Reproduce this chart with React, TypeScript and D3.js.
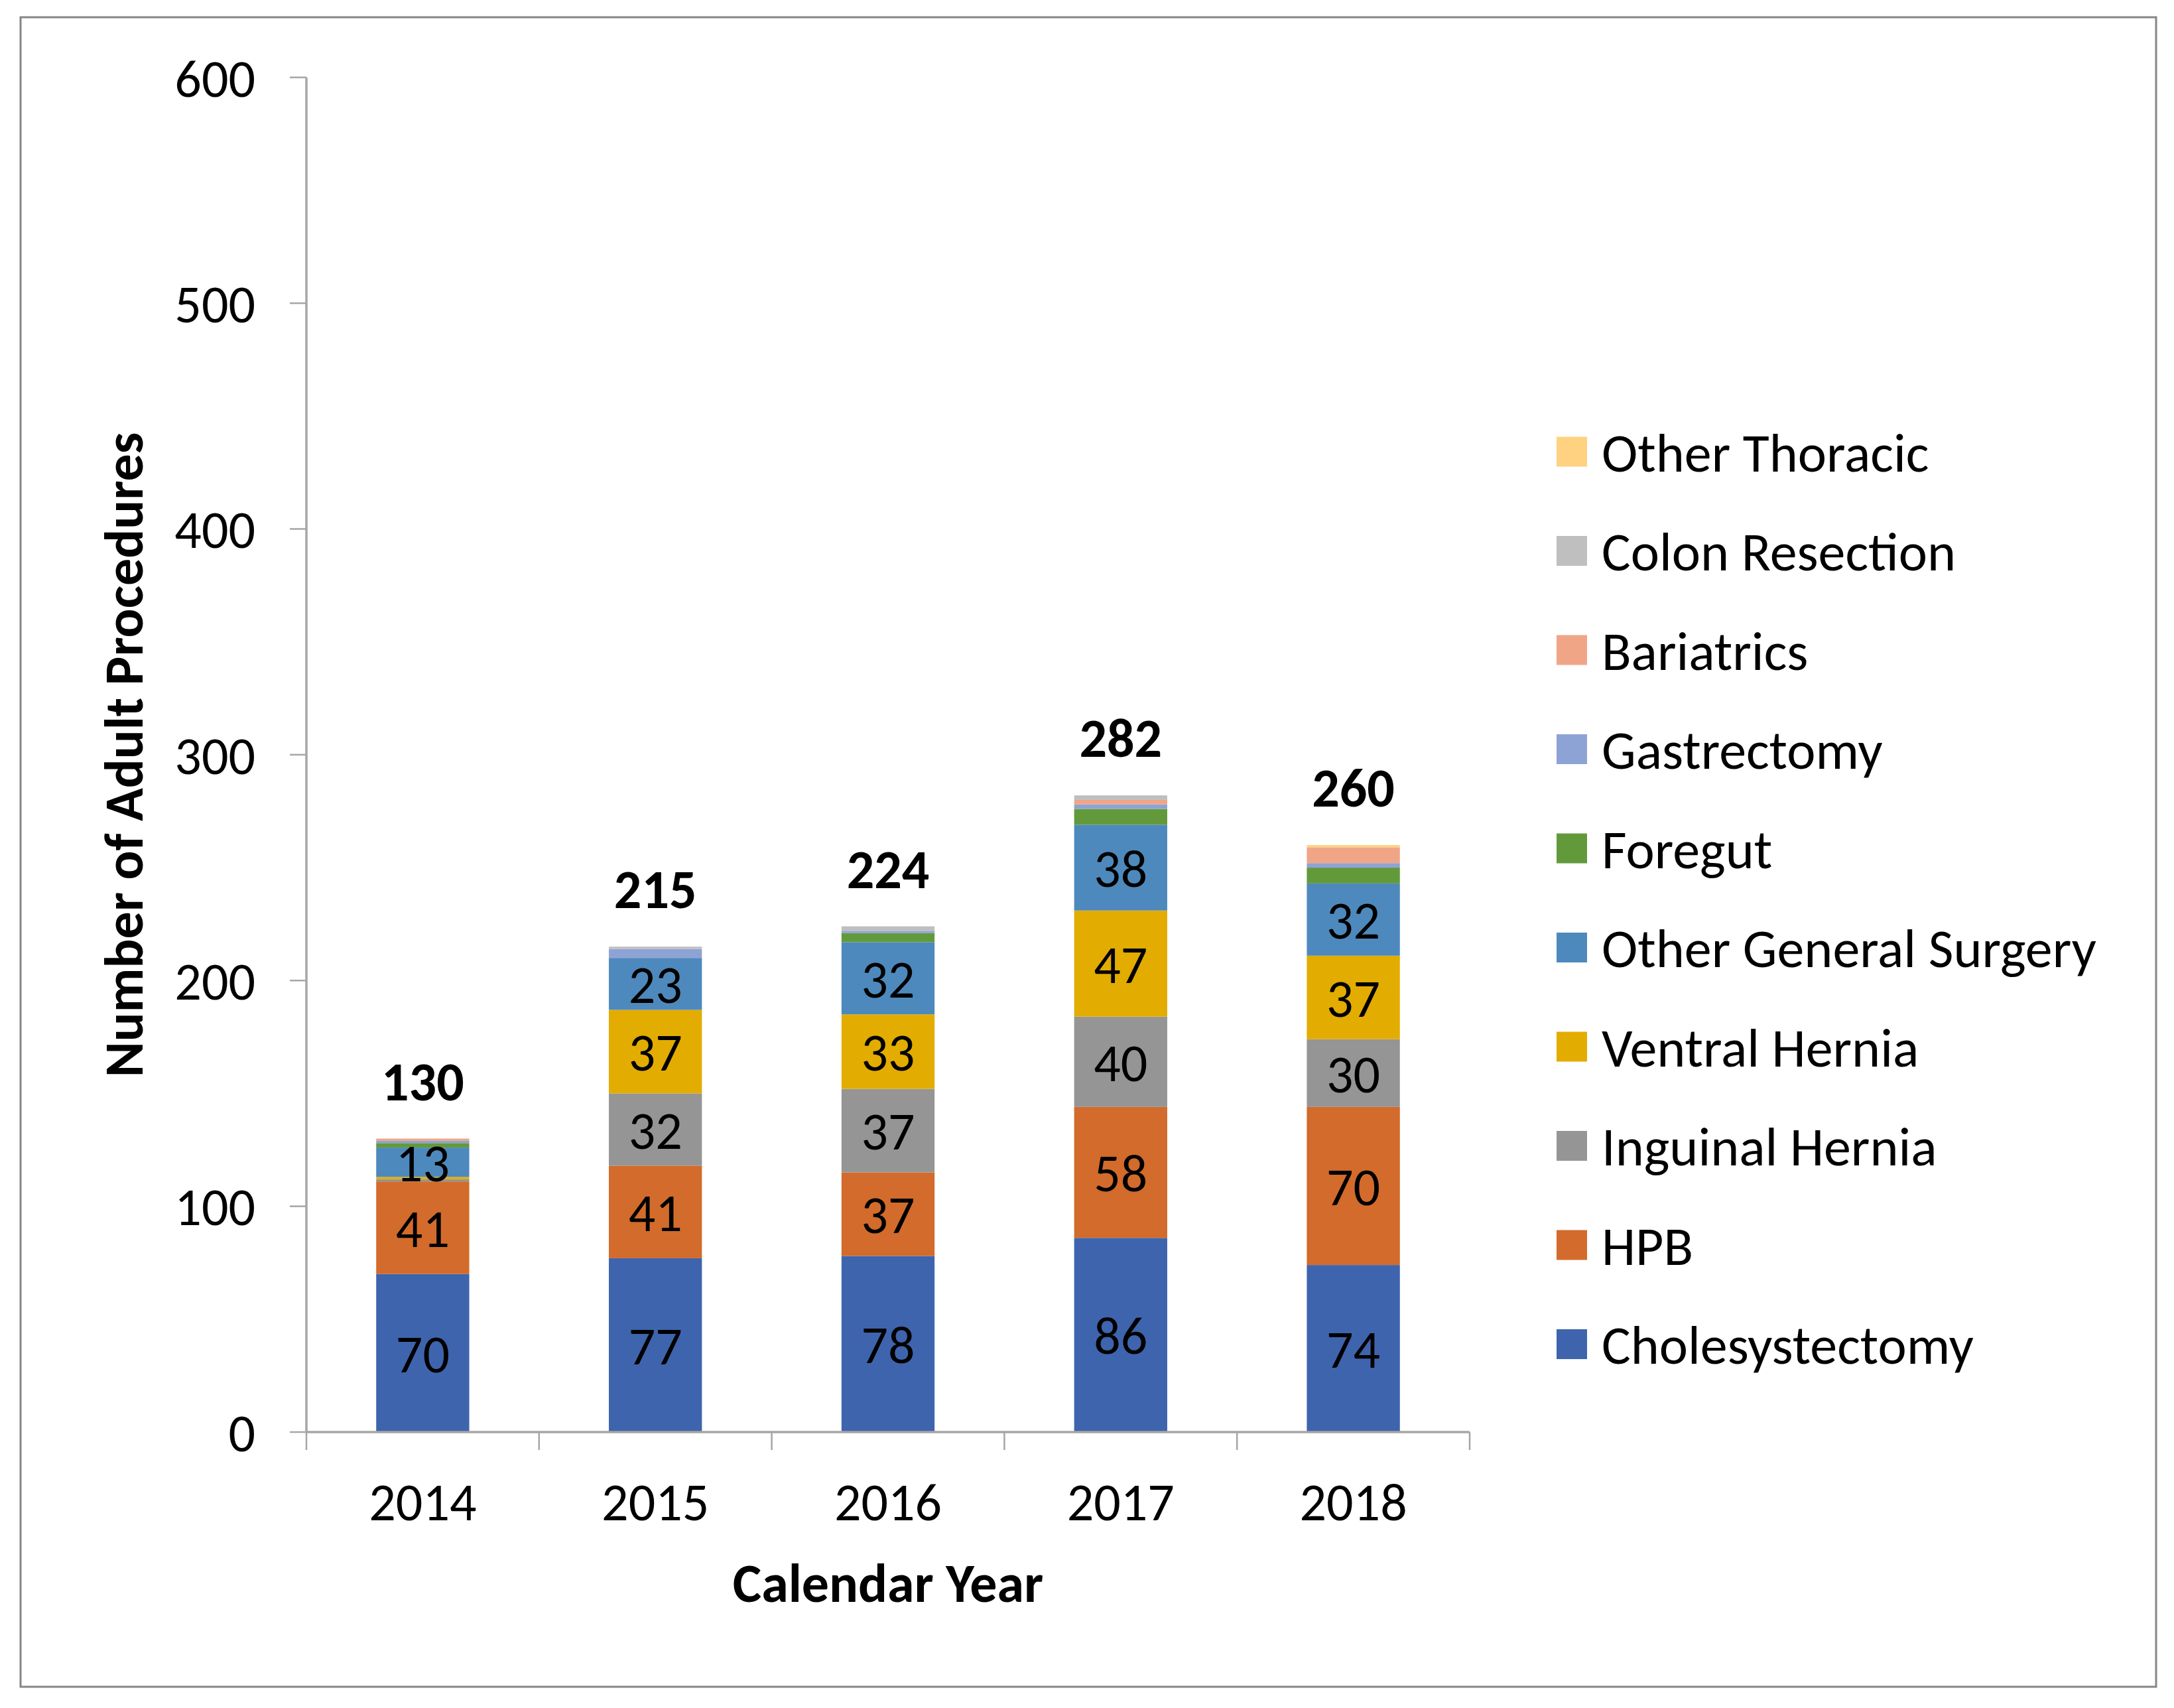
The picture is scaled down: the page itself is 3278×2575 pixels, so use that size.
import * as d3 from "d3";

const years = ["2014", "2015", "2016", "2017", "2018"];
const seriesNames = [
  "Cholesystectomy",
  "HPB",
  "Inguinal Hernia",
  "Ventral Hernia",
  "Other General Surgery",
  "Foregut",
  "Gastrectomy",
  "Bariatrics",
  "Colon Resection",
  "Other Thoracic",
];
const cholesystectomy = [70, 77, 78, 86, 74];
const hpb = [41, 41, 37, 58, 70];
const inguinalHernia = [1, 32, 37, 40, 30];
const ventralHernia = [1, 37, 33, 47, 37];
const otherGeneralSurgery = [13, 23, 32, 38, 32];
const foregut = [2, 0, 4, 7, 7];
const gastrectomy = [1, 4, 1, 2, 2];
const bariatrics = [1, 0, 0, 2, 7];
const colonResection = [0, 1, 2, 2, 0];
const otherThoracic = [0, 0, 0, 0, 1];
const yTicks = [0, 100, 200, 300, 400, 500, 600];

const seriesValues = [
  cholesystectomy,
  hpb,
  inguinalHernia,
  ventralHernia,
  otherGeneralSurgery,
  foregut,
  gastrectomy,
  bariatrics,
  colonResection,
  otherThoracic,
];

const colors = [
  "#3e64ad",
  "#d26b2b",
  "#959595",
  "#e3ac00",
  "#4e89bd",
  "#629a3b",
  "#8ea3d5",
  "#f0a587",
  "#bfbfbf",
  "#ffd281",
];

const W = 3278;
const H = 2575;
const font = "Carlito, Calibri, Lato, sans-serif";
const axisColor = "#a6a6a6";

export default function App() {
  const rows = years.map((year, i) => {
    const row: Record<string, number | string> = { year };
    seriesNames.forEach((name, s) => (row[name] = seriesValues[s][i]));
    return row;
  });
  const totals = years.map((_, i) => d3.sum(seriesValues, (v) => v[i]));

  const stacked = d3.stack<Record<string, any>>().keys(seriesNames)(rows);

  const x = d3
    .scaleBand()
    .domain(years)
    .range([462, 2216])
    .paddingInner(0.6)
    .paddingOuter(0.3);
  const y = d3.scaleLinear().domain([0, 600]).range([2159, 116.7]);

  const step = x.step();
  const x0 = x.range()[0];
  const x1 = x.range()[1];

  // legend: top entry is the last series
  const legendItems = seriesNames.map((name, i) => ({ name, color: colors[i] })).reverse();
  const legendTop = 681;
  const legendGap = 149.5;

  return (
    <svg
      width={W}
      height={H}
      style={{ position: "absolute", left: 0, top: 0, display: "block", background: "#fff" }}
      fontFamily={font}
    >
      <rect x={0} y={0} width={W} height={H} fill="#fff" />
      <rect x={31} y={26} width={3220} height={2517} fill="none" stroke="#868686" strokeWidth={3} />

      {/* bars */}
      {stacked.map((layer, s) => (
        <g key={layer.key} fill={colors[s]}>
          {layer.map((d, i) => {
            const h = y(d[0]) - y(d[1]);
            if (h <= 0) return null;
            return (
              <rect
                key={years[i]}
                x={x(years[i])}
                y={y(d[1])}
                width={x.bandwidth()}
                height={h}
              />
            );
          })}
        </g>
      ))}

      {/* segment labels */}
      {stacked.map((layer, s) =>
        layer.map((d, i) => {
          const v = seriesValues[s][i];
          if (v < 10) return null;
          return (
            <text
              key={`${layer.key}-${i}`}
              x={(x(years[i]) || 0) + x.bandwidth() / 2}
              y={(y(d[0]) + y(d[1])) / 2}
              dy="0.36em"
              textAnchor="middle"
              fontSize={80}
              fill="#000"
            >
              {v}
            </text>
          );
        })
      )}

      {/* totals */}
      {totals.map((t, i) => (
        <text
          key={years[i]}
          x={(x(years[i]) || 0) + x.bandwidth() / 2}
          y={y(t) - 58}
          textAnchor="middle"
          fontSize={82}
          fontWeight="bold"
          fill="#000"
        >
          {t}
        </text>
      ))}

      {/* y axis */}
      <line x1={462} x2={462} y1={y(600)} y2={y(0)} stroke={axisColor} strokeWidth={3.5} />
      {yTicks.map((t) => (
        <g key={t}>
          <line x1={437} x2={462} y1={y(t)} y2={y(t)} stroke={axisColor} strokeWidth={2.5} />
          <text x={385} y={y(t)} dy="0.36em" textAnchor="end" fontSize={80} fill="#000">
            {t}
          </text>
        </g>
      ))}

      {/* x axis */}
      <line x1={x0} x2={x1} y1={y(0)} y2={y(0)} stroke={axisColor} strokeWidth={3.5} />
      {d3.range(years.length + 1).map((k) => (
        <line
          key={k}
          x1={x0 + k * step}
          x2={x0 + k * step}
          y1={y(0)}
          y2={y(0) + 27}
          stroke={axisColor}
          strokeWidth={2.5}
        />
      ))}
      {years.map((yr) => (
        <text
          key={yr}
          x={(x(yr) || 0) + x.bandwidth() / 2}
          y={2292}
          textAnchor="middle"
          fontSize={80}
          fill="#000"
        >
          {yr}
        </text>
      ))}

      {/* axis titles */}
      <text x={(x0 + x1) / 2} y={2415} textAnchor="middle" fontSize={82} fontWeight="bold" fill="#000">
        Calendar Year
      </text>
      <text
        transform={`translate(215, ${(y(0) + y(600)) / 2}) rotate(-90)`}
        textAnchor="middle"
        fontSize={82}
        fontWeight="bold"
        fill="#000"
      >
        Number of Adult Procedures
      </text>

      {/* legend */}
      {legendItems.map((item, i) => {
        const cy = legendTop + i * legendGap;
        return (
          <g key={item.name}>
            <rect x={2347} y={cy - 22.5} width={46} height={45} fill={item.color} />
            <text x={2415} y={cy} dy="0.36em" fontSize={82} fill="#000">
              {item.name}
            </text>
          </g>
        );
      })}
    </svg>
  );
}
